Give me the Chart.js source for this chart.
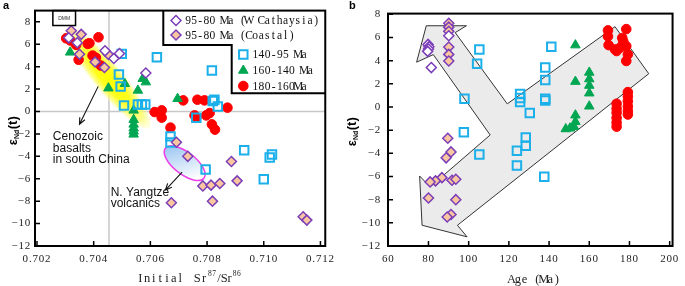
<!DOCTYPE html>
<html><head><meta charset="utf-8">
<script src="https://cdn.jsdelivr.net/npm/chart.js@4/dist/chart.umd.min.js"></script>
<style>
html,body{margin:0;padding:0;background:#fff;}
#wrap{position:relative;width:685px;height:286px;overflow:hidden;background:#fff;}
.pane{position:absolute;top:0;height:286px;}
</style></head><body>
<div id="wrap">
<div class="pane" style="left:0;width:340px"><canvas id="c1" width="340" height="286"></canvas></div>
<div class="pane" style="left:340px;width:345px"><canvas id="c2" width="345" height="286"></canvas></div>
</div>
<script>
// ---------- legend / categories ----------
const LEGEND_LABELS = ['95-80 Ma (W Cathaysia)', '95-80 Ma (Coastal)', '140-95 Ma', '160-140 Ma', '180-160Ma'];

// ---------- panel a : initial 87Sr/86Sr vs eNd(t) ----------
const aWCathSr  = [0.70312, 0.70342, 0.70440, 0.70471, 0.70491, 0.70584];
const aWCathNd  = [6.57, 6.13, 5.41, 4.73, 5.17, 3.43];
const aCoastSr  = [0.70321, 0.70356, 0.70350, 0.70405, 0.70438, 0.70452, 0.70692, 0.70732, 0.70886, 0.70785, 0.70814, 0.70845, 0.70906, 0.70819, 0.70674, 0.71139, 0.71152];
const aCoastNd  = [7.20, 6.88, 5.11, 4.42, 3.92, 5.09, -2.75, -4.00, -4.46, -6.64, -6.57, -6.43, -6.19, -8.00, -8.14, -9.39, -9.69];
const a140Sr    = [0.70499, 0.70623, 0.70489, 0.70495, 0.70507, 0.70556, 0.70570, 0.70582, 0.70817, 0.70820, 0.70826, 0.70838, 0.70762, 0.70671, 0.70671, 0.70931, 0.71029, 0.71021, 0.71000, 0.70795];
const a140Nd    = [5.14, 4.84, 3.30, 2.23, 0.54, 0.63, 0.63, 0.63, 3.66, 0.93, 1.05, 0.45, -0.55, -2.22, -2.76, -3.46, -3.84, -4.11, -6.04, -5.18];
const a160Sr    = [0.70317, 0.70452, 0.70510, 0.70556, 0.70573, 0.70584, 0.70541, 0.70541, 0.70541, 0.70541, 0.70541, 0.70541, 0.70696];
const a160Nd    = [5.28, 2.08, 2.47, 1.88, 2.92, 2.62, 0.10, -0.73, -1.15, -1.50, -1.77, -2.04, 1.14];
const a180Sr    = [0.70303, 0.70318, 0.70338, 0.70347, 0.70385, 0.70417, 0.70396, 0.70408, 0.70425, 0.70379, 0.70615, 0.70640, 0.70640, 0.70671, 0.70716, 0.70766, 0.70791, 0.70872, 0.70756, 0.70797, 0.70809, 0.70817, 0.70828, 0.70762];
const a180Nd    = [6.53, 6.33, 5.94, 4.61, 6.09, 6.62, 4.99, 4.79, 4.10, 6.03, -0.05, 0.10, -0.55, -1.44, 0.99, 1.05, 0.99, 0.34, -0.35, -0.35, -0.14, -1.15, -1.62, -0.55];
const aXTicks   = [0.702, 0.704, 0.706, 0.708, 0.710, 0.712];
const aYTicks   = [-12, -10, -8, -6, -4, -2, 0, 2, 4, 6, 8];

// ---------- panel b : age vs eNd(t) ----------
const bWCathAge = [79.8, 80.2, 80.0, 79.6, 81.4, 90.1];
const bWCathNd  = [5.40, 5.20, 5.00, 4.80, 3.40, 6.15];
const bCoastAge = [90.1, 90.1, 90.1, 90.1, 90.1, 90.1, 89.6, 91.2, 88.8, 86.7, 91.7, 93.6, 83.5, 80.8, 80.0, 93.6, 91.2, 89.3];
const bCoastNd  = [7.23, 6.89, 6.53, 5.17, 4.54, 3.97, -2.70, -3.88, -4.39, -6.10, -6.32, -6.24, -6.38, -6.47, -7.86, -8.00, -9.28, -9.50];
const b140Age   = [105.3, 104.2, 97.9, 97.6, 105.3, 125.6, 125.6, 125.6, 130.4, 128.4, 128.4, 124.0, 124.0, 137.6, 141.1, 138.1, 138.1, 138.1, 138.1];
const b140Nd    = [4.96, 3.74, 0.71, -2.19, -4.11, 1.13, 0.77, 0.43, -0.51, -2.64, -3.34, -3.77, -5.05, -6.02, 5.19, 3.40, 2.32, 0.71, 0.55];
const b160Age   = [153.1, 153.1, 160.0, 160.0, 160.0, 160.0, 160.0, 153.1, 153.1, 152.4, 150.4, 148.3];
const b160Nd    = [5.34, 2.19, 2.98, 2.41, 1.85, 1.19, 0.06, -0.71, -1.28, -1.70, -1.84, -1.90];
const b180Age   = [169.3, 169.3, 169.6, 172.8, 173.6, 175.2, 176.4, 176.9, 178.4, 178.4, 179.2, 178.4, 173.6, 173.6, 173.6, 173.6, 173.6, 173.6, 179.2, 179.2, 179.2, 179.2, 179.2, 179.2];
const b180Nd    = [6.61, 6.10, 5.34, 4.96, 4.83, 5.10, 5.96, 5.67, 6.72, 5.25, 4.54, 3.97, 0.28, -0.14, -0.50, -0.94, -1.35, -1.70, 1.28, 0.90, 0.50, 0.05, -0.35, -0.65];
// outline of the grey trend arrow (age, eNd), closed
const bArrowAge = [78.9, 98.9, 93.3, 119.2, 172.8, 189.6, 94.4, 99.2, 76.8, 75.6, 80.8, 110.7, 82.4, 74.1, 78.9];
const bArrowNd  = [7.01, 7.01, 6.42, 0.27, 6.93, 2.87, -10.21, -11.21, -10.21, -5.96, -6.90, -2.42, 4.52, 3.87, 7.01];
const bXTicks   = [60, 80, 100, 120, 140, 160, 180, 200];
const bYTicks   = [-12, -10, -8, -6, -4, -2, 0, 2, 4, 6, 8];

// ---------- panel a annotations (data units) ----------
const A_REF_SR = 0.70454, A_REF_ND = 0;
const A_YELLOW = {x1: 0.70306, y1: 7.45, x2: 0.70596, y2: -1.45};
const A_BLUE   = {x1: 0.70653, y1: -3.28, x2: 0.70789, y2: -5.95};
const A_ARROW1 = {x1: 0.70416, y1: 2.24, x2: 0.70350, y2: -1.14};
const A_ARROW2 = {x1: 0.70712, y1: -5.41, x2: 0.70653, y2: -7.01};
const A_TEXT1  = {x: 0.70256, y: [-2.27, -3.30, -4.34], lines: ['Cenozoic', 'basalts', 'in south China']};
const A_TEXT2  = {x: 0.70460, y: [-7.25, -8.26], lines: ['N. Yangtze', 'volcanics']};
const A_DMM    = {x1: 0.70256, x2: 0.70336, y1: 9, y2: 7.67, label: 'DMM'};

// ---------- styles ----------
const SERIF = "'Liberation Serif', 'DejaVu Serif', serif";
const SANS = "'Liberation Sans', Arial, sans-serif";
const PURPLE = '#7b3db8', PEACH = '#f8c7a0', CYAN = '#1cb0ea', GREEN = '#00a651', RED = '#ff0000';
const STY = [
  {pointStyle: 'rectRot', pointRadius: 5, backgroundColor: '#ffffff', borderColor: PURPLE, borderWidth: 1.5},
  {pointStyle: 'rectRot', pointRadius: 5, backgroundColor: PEACH, borderColor: PURPLE, borderWidth: 1.5},
  {pointStyle: 'rect', pointRadius: 6, backgroundColor: 'rgba(255,255,255,0)', borderColor: CYAN, borderWidth: 2},
  {pointStyle: 'triangle', pointRadius: 5.5, backgroundColor: GREEN, borderColor: GREEN, borderWidth: 1},
  {pointStyle: 'circle', pointRadius: 4.8, backgroundColor: RED, borderColor: RED, borderWidth: 1}
];

function toPts(xs, ys) { return xs.map((x, i) => ({x: x, y: ys[i]})); }
function makeSets(list) {
  return list.map((d, i) => Object.assign({label: LEGEND_LABELS[i], data: d, showLine: false,
    pointHoverRadius: STY[i].pointRadius}, STY[i]));
}
function fmtNum(v) { return v < 0 ? '\u2212' + String(-v) : String(v); }

function scales(o) {
  return {
    x: {type: 'linear', min: o.xmin, max: o.xmax,
        afterBuildTicks: s => { s.ticks = o.xt.map(v => ({value: v})); },
        afterFit: s => { s.height = 40; },
        grid: {display: false, drawTicks: false}, border: {display: false},
        ticks: {padding: 7, autoSkip: false, maxRotation: 0, color: '#222',
                font: {family: SERIF, size: 11}, callback: o.xfmt}},
    y: {type: 'linear', min: o.ymin, max: o.ymax,
        afterBuildTicks: s => { s.ticks = o.yt.map(v => ({value: v})); },
        afterFit: s => { s.width = o.yw; },
        grid: {display: false, drawTicks: false}, border: {display: false},
        ticks: {padding: o.ypad, autoSkip: false, color: '#222',
                font: {family: SERIF, size: 11}, callback: v => fmtNum(v)}}
  };
}

// draw text with each glyph centred in a fixed-width cell (half-width CJK style)
function cellText(ctx, str, x, y, cell) {
  ctx.textAlign = 'center';
  for (let i = 0; i < str.length; i++) ctx.fillText(str[i], x + cell * (i + 0.5), y);
  return x + cell * str.length;
}

function frameAndTicks(chart) {
  const ctx = chart.ctx, a = chart.chartArea, xs = chart.scales.x, ys = chart.scales.y;
  ctx.save();
  ctx.strokeStyle = '#000'; ctx.lineWidth = 1.5;
  ctx.beginPath();
  xs.ticks.forEach(t => { const p = xs.getPixelForValue(t.value); ctx.moveTo(p, a.bottom); ctx.lineTo(p, a.bottom - 5); });
  ys.ticks.forEach(t => { const p = ys.getPixelForValue(t.value); ctx.moveTo(a.left, p); ctx.lineTo(a.left + 5, p); });
  ctx.stroke();
  ctx.lineWidth = 2;
  ctx.strokeRect(a.left, a.top, a.right - a.left, a.bottom - a.top);
  ctx.restore();
}

function drawEps(ctx, cx, cy) {
  ctx.save(); ctx.translate(cx, cy); ctx.rotate(-Math.PI / 2);
  ctx.fillStyle = '#000'; ctx.textAlign = 'left'; ctx.textBaseline = 'alphabetic';
  const f1 = 'bold 13px ' + SANS, f2 = 'bold 7px ' + SANS;
  ctx.font = f1; const w1 = ctx.measureText('ε').width, w3 = ctx.measureText('(t)').width;
  ctx.font = f2; const w2 = ctx.measureText('Nd').width;
  let sx = -(w1 + w2 + w3) / 2; const base = 4.5;
  ctx.font = f1; ctx.fillText('ε', sx, base); sx += w1;
  ctx.font = f2; ctx.fillText('Nd', sx, base + 2.5); sx += w2 + 0.5;
  ctx.font = f1; ctx.fillText('(t)', sx, base);
  ctx.restore();
}

function drawMarker(ctx, st, x, y) {
  ctx.save();
  ctx.fillStyle = st.backgroundColor; ctx.strokeStyle = st.borderColor; ctx.lineWidth = st.borderWidth;
  const r = st.pointRadius;
  ctx.beginPath();
  if (st.pointStyle === 'rectRot') { ctx.moveTo(x - r, y); ctx.lineTo(x, y - r); ctx.lineTo(x + r, y); ctx.lineTo(x, y + r); ctx.closePath(); }
  else if (st.pointStyle === 'rect') { const h = r * Math.SQRT1_2; ctx.rect(x - h, y - h, 2 * h, 2 * h); }
  else if (st.pointStyle === 'triangle') { const h = r; ctx.moveTo(x, y - h); ctx.lineTo(x + h * 0.866, y + h * 0.5); ctx.lineTo(x - h * 0.866, y + h * 0.5); ctx.closePath(); }
  else { ctx.arc(x, y, r, 0, Math.PI * 2); }
  ctx.fill(); ctx.stroke();
  ctx.restore();
}

function arrow(ctx, x1, y1, x2, y2) {
  const ang = Math.atan2(y2 - y1, x2 - x1), L = 7, sp = 0.42;
  ctx.beginPath(); ctx.moveTo(x1, y1); ctx.lineTo(x2, y2);
  ctx.moveTo(x2 - L * Math.cos(ang - sp), y2 - L * Math.sin(ang - sp)); ctx.lineTo(x2, y2);
  ctx.lineTo(x2 - L * Math.cos(ang + sp), y2 - L * Math.sin(ang + sp));
  ctx.stroke();
}

function ellipse(p1, p2, hw) {
  const cx = (p1[0] + p2[0]) / 2, cy = (p1[1] + p2[1]) / 2;
  const rx = Math.hypot(p2[0] - p1[0], p2[1] - p1[1]) / 2, ang = Math.atan2(p2[1] - p1[1], p2[0] - p1[0]);
  return {cx, cy, rx, ry: hw, ang};
}

// letter spacing for the library-drawn tick labels (half-width serif look)
const spacing = {
  id: 'spacing',
  beforeDraw(chart) { try { chart.ctx.letterSpacing = '0.8px'; } catch (e) {} },
  afterDraw(chart) { try { chart.ctx.letterSpacing = '0px'; } catch (e) {} }
};

// ---------- panel a plugin ----------
const plugA = {
  id: 'plugA',
  beforeDatasetsDraw(chart) {
    const ctx = chart.ctx, a = chart.chartArea, X = chart.scales.x, Y = chart.scales.y;
    const P = (x, y) => [X.getPixelForValue(x), Y.getPixelForValue(y)];
    ctx.save();
    ctx.strokeStyle = '#c8c8c8'; ctx.lineWidth = 1.5;
    ctx.beginPath();
    const rx = X.getPixelForValue(A_REF_SR), ry = Y.getPixelForValue(A_REF_ND);
    ctx.moveTo(rx, a.top); ctx.lineTo(rx, a.bottom);
    ctx.moveTo(a.left, ry); ctx.lineTo(a.right, ry);
    ctx.stroke();
    // yellow field
    let e = ellipse(P(A_YELLOW.x1, A_YELLOW.y1), P(A_YELLOW.x2, A_YELLOW.y2), 14.5);
    ctx.save(); ctx.translate(e.cx, e.cy); ctx.rotate(e.ang); ctx.scale(1, e.ry / e.rx);
    let g = ctx.createRadialGradient(0, 0, 0, 0, 0, e.rx);
    g.addColorStop(0, 'rgba(255,255,0,1)'); g.addColorStop(0.5, 'rgba(255,255,20,0.95)');
    g.addColorStop(0.82, 'rgba(255,255,90,0.7)'); g.addColorStop(1, 'rgba(255,255,170,0.3)');
    ctx.fillStyle = g; ctx.beginPath(); ctx.arc(0, 0, e.rx, 0, Math.PI * 2); ctx.fill();
    ctx.restore();
    // blue field
    e = ellipse(P(A_BLUE.x1, A_BLUE.y1), P(A_BLUE.x2, A_BLUE.y2), 11);
    ctx.save(); ctx.translate(e.cx, e.cy); ctx.rotate(e.ang);
    g = ctx.createLinearGradient(-e.rx * 0.7, -e.ry, e.rx * 0.6, e.ry);
    g.addColorStop(0, '#9ec8f2'); g.addColorStop(1, '#ffffff');
    ctx.fillStyle = g; ctx.strokeStyle = '#ee3ee8'; ctx.lineWidth = 1.5;
    ctx.beginPath(); ctx.ellipse(0, 0, e.rx, e.ry, 0, 0, Math.PI * 2); ctx.fill(); ctx.stroke();
    ctx.restore();
    ctx.restore();
  },
  afterDatasetsDraw(chart) {
    const ctx = chart.ctx, a = chart.chartArea, X = chart.scales.x, Y = chart.scales.y;
    const P = (x, y) => [X.getPixelForValue(x), Y.getPixelForValue(y)];
    ctx.save();
    try { ctx.letterSpacing = '0px'; } catch (e) {}
    ctx.strokeStyle = '#111'; ctx.lineWidth = 1.1;
    let p1 = P(A_ARROW1.x1, A_ARROW1.y1), p2 = P(A_ARROW1.x2, A_ARROW1.y2); arrow(ctx, p1[0], p1[1], p2[0], p2[1]);
    p1 = P(A_ARROW2.x1, A_ARROW2.y1); p2 = P(A_ARROW2.x2, A_ARROW2.y2); arrow(ctx, p1[0], p1[1], p2[0], p2[1]);
    ctx.fillStyle = '#111'; ctx.font = '12px ' + SANS; ctx.textAlign = 'left'; ctx.textBaseline = 'middle';
    A_TEXT1.lines.forEach((t, i) => { const p = P(A_TEXT1.x, A_TEXT1.y[i]); ctx.fillText(t, p[0], p[1]); });
    A_TEXT2.lines.forEach((t, i) => { const p = P(A_TEXT2.x, A_TEXT2.y[i]); ctx.fillText(t, p[0], p[1]); });
    // DMM box
    const d1 = P(A_DMM.x1, A_DMM.y1), d2 = P(A_DMM.x2, A_DMM.y2);
    ctx.fillStyle = '#fff'; ctx.fillRect(d1[0], d1[1], d2[0] - d1[0], d2[1] - d1[1]);
    ctx.strokeStyle = '#000'; ctx.lineWidth = 1.5; ctx.strokeRect(d1[0], d1[1], d2[0] - d1[0], d2[1] - d1[1]);
    ctx.fillStyle = '#333'; ctx.font = '5px ' + SANS; ctx.textAlign = 'center';
    ctx.fillText(A_DMM.label, (d1[0] + d2[0]) / 2, (d1[1] + d2[1]) / 2 + 0.5);
    // legend (stepped box)
    const L1 = 163.3, L2 = 231.7, S1 = 45, B = 93.3;
    ctx.fillStyle = '#fff';
    ctx.beginPath(); ctx.moveTo(L1, a.top); ctx.lineTo(L1, S1); ctx.lineTo(L2, S1); ctx.lineTo(L2, B); ctx.lineTo(a.right, B); ctx.lineTo(a.right, a.top); ctx.closePath(); ctx.fill();
    ctx.strokeStyle = '#000'; ctx.lineWidth = 2;
    ctx.beginPath(); ctx.moveTo(L1, a.top); ctx.lineTo(L1, S1); ctx.lineTo(L2, S1); ctx.lineTo(L2, B); ctx.lineTo(a.right, B); ctx.stroke();
    const rows = [[176, 20.5], [176, 35], [243.3, 54.5], [243.3, 70.5], [243.3, 86]];
    ctx.font = '11.5px ' + SERIF; ctx.textBaseline = 'middle';
    rows.forEach((r, i) => {
      drawMarker(ctx, STY[i], r[0], r[1]);
      ctx.fillStyle = '#111'; cellText(ctx, chart.data.datasets[i].label, r[0] + 9, r[1] + 0.5, 6.1);
    });
    ctx.restore();
    frameAndTicks(chart);
  },
  afterDraw(chart) {
    const ctx = chart.ctx;
    ctx.save();
    try { ctx.letterSpacing = '0px'; } catch (e) {}
    drawEps(ctx, 12, 131);
    ctx.fillStyle = '#222'; ctx.textBaseline = 'alphabetic';
    const big = '12.5px ' + SERIF, sup = '7.5px ' + SERIF;
    ctx.font = big; cellText(ctx, 'Initial', 137, 282, 6.67);
    let x = cellText(ctx, 'Sr', 194, 282, 6.67);
    ctx.font = sup; x = cellText(ctx, '87', x + 0.5, 276, 4.2);
    ctx.font = big; x = cellText(ctx, '/Sr', x, 282, 5.3);
    ctx.font = sup; cellText(ctx, '86', x + 0.5, 276, 4.2);
    ctx.fillStyle = '#000'; ctx.font = 'bold 11px ' + SANS; ctx.textAlign = 'left'; ctx.fillText('a', 3, 9);
    ctx.restore();
  }
};

// ---------- panel b plugin ----------
const plugB = {
  id: 'plugB',
  afterDatasetsDraw(chart) { frameAndTicks(chart); },
  afterDraw(chart) {
    const ctx = chart.ctx;
    ctx.save();
    try { ctx.letterSpacing = '0px'; } catch (e) {}
    drawEps(ctx, 11, 132);
    ctx.fillStyle = '#222'; ctx.font = '12.5px ' + SERIF; ctx.textBaseline = 'alphabetic';
    cellText(ctx, 'Age (Ma)', 168.3, 283, 6.46);
    ctx.fillStyle = '#000'; ctx.font = 'bold 11px ' + SANS; ctx.textAlign = 'left'; ctx.fillText('b', 9, 9);
    ctx.restore();
  }
};

const common = {responsive: false, animation: false, events: [],
  plugins: {legend: {display: false}, tooltip: {enabled: false}}};

new Chart(document.getElementById('c1'), {
  type: 'scatter',
  data: {datasets: makeSets([toPts(aWCathSr, aWCathNd), toPts(aCoastSr, aCoastNd), toPts(a140Sr, a140Nd), toPts(a160Sr, a160Nd), toPts(a180Sr, a180Nd)])},
  options: Object.assign({}, common, {
    layout: {padding: {top: 10, right: 11, left: 0, bottom: 0}},
    scales: scales({xmin: 0.70193, xmax: 0.71217, xt: aXTicks, xfmt: v => v.toFixed(3),
                    ymin: -12, ymax: 9, yt: aYTicks, yw: 35, ypad: 4})
  }),
  plugins: [spacing, plugA]
});

const setsB = makeSets([toPts(bWCathAge, bWCathNd), toPts(bCoastAge, bCoastNd), toPts(b140Age, b140Nd), toPts(b160Age, b160Nd), toPts(b180Age, b180Nd)]);
setsB.push({type: 'line', label: 'trend', data: toPts(bArrowAge, bArrowNd), showLine: true, fill: 'shape',
  backgroundColor: '#ebebeb', borderColor: '#333', borderWidth: 1, pointRadius: 0, tension: 0, order: 99});
new Chart(document.getElementById('c2'), {
  type: 'scatter',
  data: {datasets: setsB},
  options: Object.assign({}, common, {
    layout: {padding: {top: 10, right: 2, left: 0, bottom: 0}},
    scales: scales({xmin: 59.86, xmax: 201.44, xt: bXTicks, xfmt: v => String(v),
                    ymin: -12, ymax: 8.06, yt: bYTicks, yw: 48, ypad: 7})
  }),
  plugins: [spacing, plugB]
});
</script>
</body></html>
